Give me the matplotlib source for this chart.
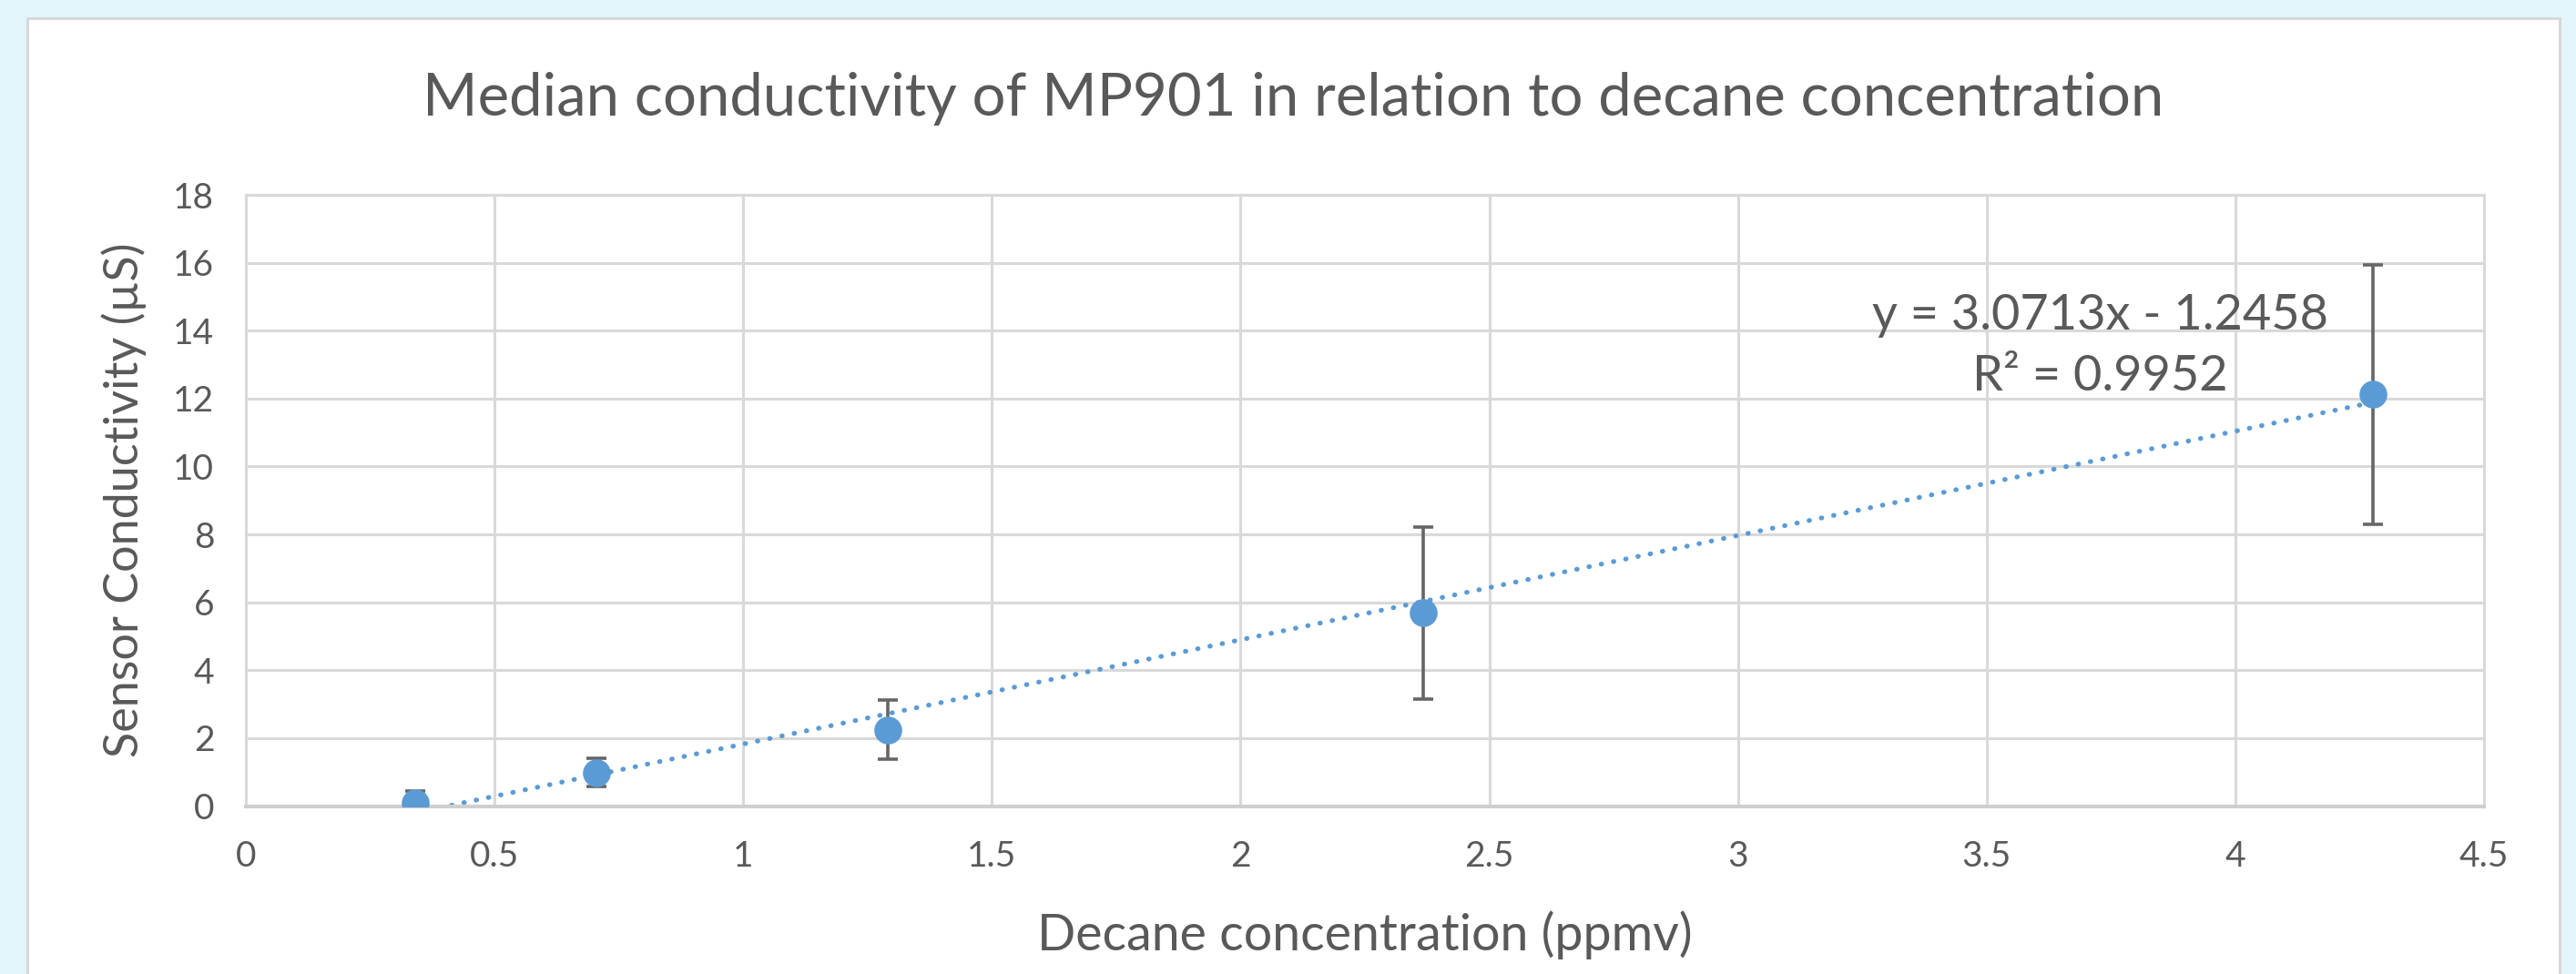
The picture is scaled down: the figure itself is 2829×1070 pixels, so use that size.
import numpy as np
import matplotlib.pyplot as plt
from matplotlib.patches import Rectangle

plt.rcParams['font.family'] = ['Lato', 'DejaVu Sans']

# Median conductivity data
concentration = [0.34, 0.704, 1.29, 2.368, 4.277]   # ppmv
conductivity = [0.09, 0.99, 2.25, 5.69, 12.12]      # uS
error = [0.36, 0.42, 0.88, 2.53, 3.82]

# Linear trendline as reported on the chart
slope = 3.0713
intercept = -1.2458
r_squared = 0.9952

x_ticks = [0, 0.5, 1, 1.5, 2, 2.5, 3, 3.5, 4, 4.5]
x_labels = ["0", "0.5", "1", "1.5", "2", "2.5", "3", "3.5", "4", "4.5"]
y_ticks = [0, 2, 4, 6, 8, 10, 12, 14, 16, 18]

text_color = "#595959"
grid_color = "#D9D9D9"
blue = "#5B9BD5"

fig = plt.figure(figsize=(28.29, 10.70), dpi=100, facecolor="#E4F5FA")

# white chart area on the light blue page
fig.patches.append(Rectangle((30 / 2829, -0.05), 2781 / 2829, 1.05 - 20 / 1070,
                             transform=fig.transFigure, facecolor="white",
                             edgecolor="#D6D6D6", linewidth=2, zorder=-10))

ax = fig.add_axes([270 / 2829, 1 - 885.5 / 1070, 2458 / 2829, 671.5 / 1070])
ax.set_facecolor("white")

# trendline, clipped at y = 0 by the axis limits
trend_x = np.array([min(concentration), max(concentration)])
ax.plot(trend_x, slope * trend_x + intercept, color=blue, lw=3.8,
        linestyle=(0, (0.1, 2.5)), dash_capstyle="round", zorder=2)

ax.errorbar(concentration, conductivity, yerr=error, fmt="o", color=blue,
            markersize=21, ecolor="#666666", elinewidth=2.6, capsize=8,
            capthick=2.6, zorder=3)

ax.set_xlim(0, 4.5)
ax.set_ylim(0, 18)
ax.set_xticks(x_ticks)
ax.set_xticklabels(x_labels)
ax.set_yticks(y_ticks)
ax.tick_params(length=0, labelsize=28, labelcolor=text_color)
ax.tick_params(axis="x", pad=27)
ax.tick_params(axis="y", pad=25)
ax.grid(True, color=grid_color, lw=2.2)
ax.set_axisbelow(True)
for side, spine in ax.spines.items():
    spine.set_color(grid_color)
    spine.set_linewidth(2.2)
ax.spines["bottom"].set_color("#CFCFCF")
ax.spines["bottom"].set_linewidth(3)

ax.set_xlabel("Decane concentration (ppmv)", fontsize=40, color=text_color, labelpad=30)
ax.set_ylabel("Sensor Conductivity (µS)", fontsize=37.5, color=text_color, labelpad=21)

fig.text(1420 / 2829, 1 - 108 / 1070,
         "Median conductivity of MP901 in relation to decane concentration",
         ha="center", va="center", fontsize=47, color=text_color)

ax.text(3.728, 13.55, f"y = {slope}x - {abs(intercept)}\nR² = {r_squared}",
        ha="center", va="center", multialignment="center", fontsize=39,
        color=text_color, linespacing=1.45)

fig.savefig("out.png", dpi=100, facecolor=fig.get_facecolor())
